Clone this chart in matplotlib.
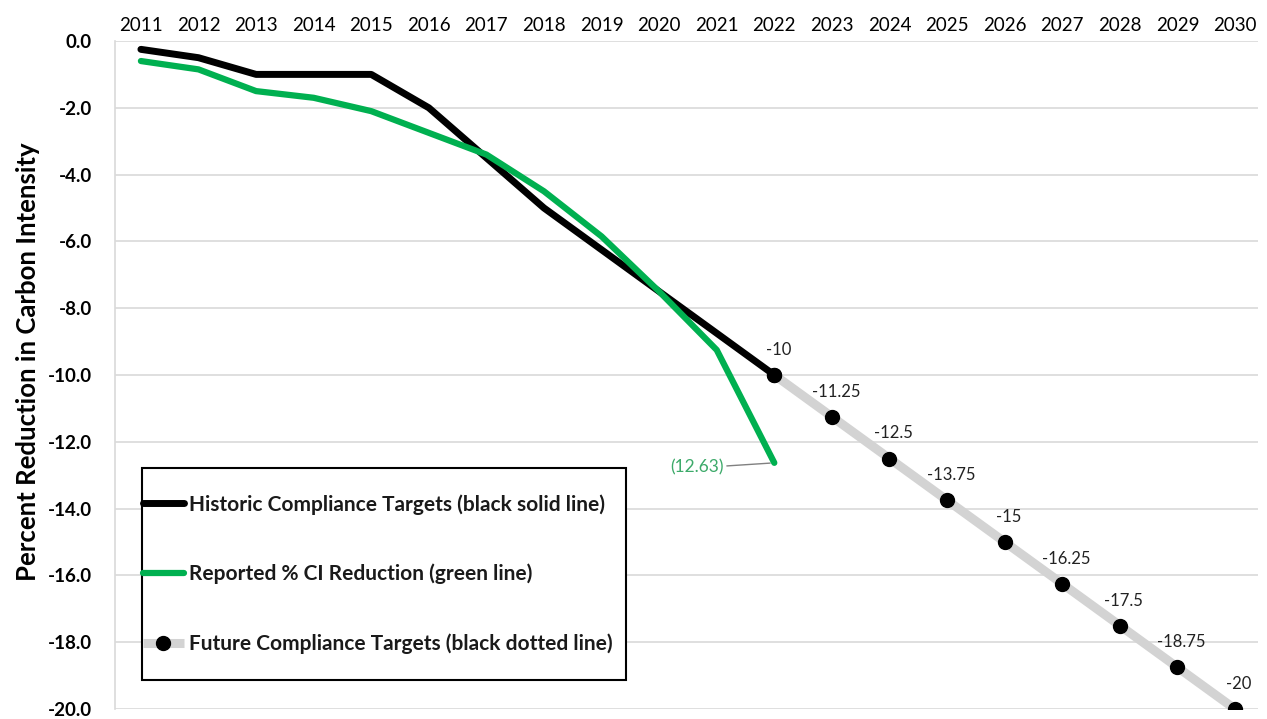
import numpy as np
import matplotlib.pyplot as plt
from matplotlib.patches import Rectangle

plt.rcParams["font.family"] = ["Lato", "DejaVu Sans"]

years = list(range(2011, 2031))
hist_years = list(range(2011, 2023))
historic_targets = [-0.25, -0.5, -1.0, -1.0, -1.0, -2.0, -3.5, -5.0, -6.25, -7.5, -8.75, -10.0]
reported_ci = [-0.6, -0.85, -1.5, -1.7, -2.1, -2.75, -3.4, -4.5, -5.85, -7.5, -9.25, -12.63]
future_years = list(range(2022, 2031))
future_targets = [-10.0, -11.25, -12.5, -13.75, -15.0, -16.25, -17.5, -18.75, -20.0]
future_labels = ["-10", "-11.25", "-12.5", "-13.75", "-15", "-16.25", "-17.5", "-18.75", "-20"]
y_ticks = np.arange(0, -20.1, -2)

GREEN = "#00B050"
GRID = "#D9D9D9"

fig = plt.figure(figsize=(12.67, 7.19), dpi=100)
ax = fig.add_axes([115 / 1267, 1 - 709 / 719, 1143 / 1267, 668 / 719])

ax.plot(future_years, future_targets, color="#D3D3D3", linewidth=6.5,
        marker="o", markersize=10, markerfacecolor="black", markeredgecolor="black",
        solid_capstyle="butt", zorder=2,
        label="Future Compliance Targets (black dotted line)")
ax.plot(hist_years, historic_targets, color="black", linewidth=5,
        solid_capstyle="round", solid_joinstyle="round", zorder=3,
        label="Historic Compliance Targets (black solid line)")
ax.plot(hist_years, reported_ci, color=GREEN, linewidth=4.5,
        solid_capstyle="round", solid_joinstyle="round", zorder=4,
        label="Reported % CI Reduction (green line)")
# 2022 target dot sits on top of the black line
ax.plot(future_years[:1], future_targets[:1], "o", color="black", markersize=10, zorder=5)

for x, y, lab in zip(future_years, future_targets, future_labels):
    ax.annotate(lab, (x, y), xytext=(4, 25), textcoords="offset pixels",
                ha="center", va="center", fontsize=12, color="#222222")

ax.annotate(f"({abs(reported_ci[-1]):.2f})", (hist_years[-1], reported_ci[-1]),
            xytext=(-77, -5), textcoords="offset pixels", ha="center", va="center",
            fontsize=12.5, color="#3DAA6A",
            arrowprops=dict(arrowstyle="-", color="#808080", lw=1,
                            shrinkA=0, shrinkB=3))

ax.set_xlim(2010.55, 2030.4)
ax.set_ylim(-20, 0)
ax.set_xticks(years)
ax.xaxis.tick_top()
ax.tick_params(axis="x", length=0, labelsize=13.5, pad=5)
ax.set_yticks(y_ticks)
ax.set_yticklabels([f"{v:.1f}" for v in y_ticks], fontweight="bold")
ax.tick_params(axis="y", length=0, labelsize=13.5, pad=16.5)
ax.grid(axis="y", color=GRID, linewidth=1.2)
ax.set_axisbelow(True)
for s in ax.spines.values():
    s.set_visible(False)
ax.spines["left"].set_visible(True)
ax.spines["left"].set_color(GRID)
ax.spines["left"].set_linewidth(1.2)

ax.set_ylabel("Percent Reduction in Carbon Intensity", fontsize=18.5, fontweight="bold")
ax.yaxis.set_label_coords(-0.066, 0.52)

# legend box drawn by hand so the handles can touch its left edge
box_x0, box_x1 = (142 - 115) / 1143, (626 - 115) / 1143
box_y0, box_y1 = (709 - 680) / 668, (709 - 468) / 668
ax.add_patch(Rectangle((box_x0, box_y0), box_x1 - box_x0, box_y1 - box_y0,
                       transform=ax.transAxes, facecolor="white", edgecolor="black",
                       linewidth=1.5, zorder=6))

handles, labels = ax.get_legend_handles_labels()
order = [1, 2, 0]
leg = ax.legend([handles[i] for i in order], [labels[i] for i in order],
                loc="center left", bbox_to_anchor=(box_x0 + 0.001, (709 - 574) / 668),
                prop=dict(size=15, weight="bold"),
                labelspacing=2.35, handlelength=1.95, handletextpad=0.25,
                borderpad=0, borderaxespad=0, numpoints=1, frameon=False)
leg.set_zorder(7)
for t in leg.get_texts():
    t.set_color("#1a1a1a")

fig.savefig("out.png", dpi=100)
